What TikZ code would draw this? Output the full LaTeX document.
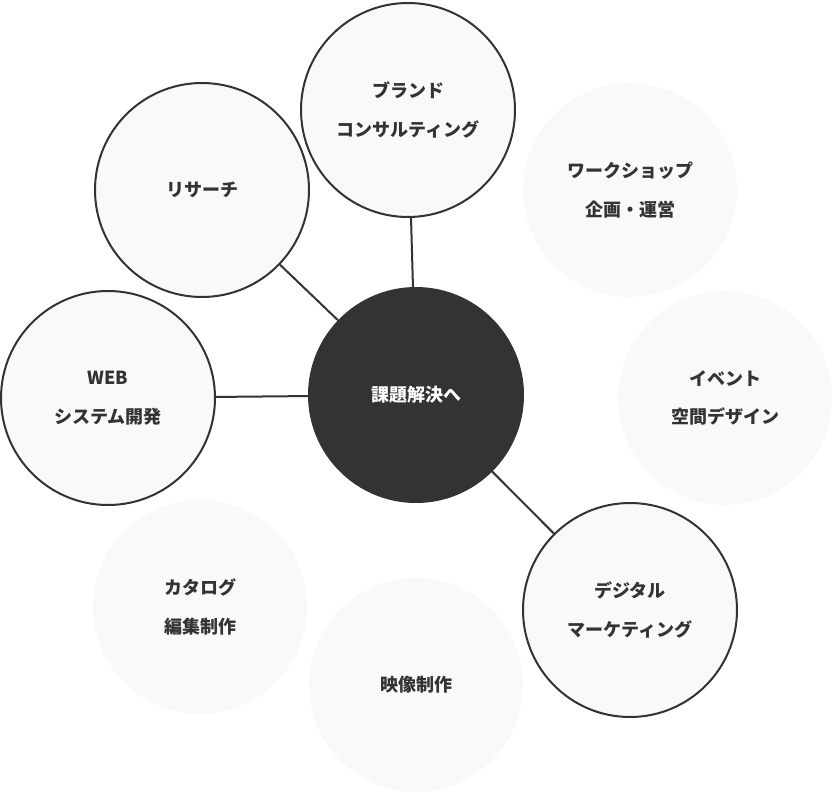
\documentclass[tikz,border=0pt]{standalone}
\usepackage{fontspec}
\setmainfont{Noto Sans CJK JP}
\definecolor{ink}{HTML}{333333}
\definecolor{paper}{HTML}{FAF9F7}
\tikzset{every picture/.style={line width=0.75pt}}
\tikzset{
  topic/.style={circle,draw=ink,line width=1.5pt,fill=paper,minimum size=160.5pt,inner sep=0pt,
    align=center,text=ink,font=\bfseries\fontsize{13.5}{29}\selectfont},
  faded/.style={topic,draw=none},
  hub/.style={topic,fill=ink,draw=ink,text=white},
  link/.style={draw=ink,line width=1.5pt}
}
\begin{document}
\begin{tikzpicture}[x=0.75pt,y=0.75pt,yscale=-1,xscale=1]
\useasboundingbox (0,0) rectangle (832,792);

% hub
\node [hub] (hub) at (416,395) {課題解決へ};

% linked topics
\node [topic] (brand) at (408,110) {ブランド\\コンサルティング};
\node [topic] (research) at (202,190) {リサーチ};
\node [topic] (web) at (108,398) {WEB\\システム開発};
\node [topic] (digital) at (630,610) {デジタル\\マーケティング};

% faded topics
\node [faded] (workshop) at (630,190) {ワークショップ\\企画・運営};
\node [faded] (event) at (725,398) {イベント\\空間デザイン};
\node [faded] (catalog) at (200,607) {カタログ\\編集制作};
\node [faded] (movie) at (416,685) {映像制作};

% links
\draw [link] (hub) -- (brand);
\draw [link] (hub) -- (research);
\draw [link] (hub) -- (web);
\draw [link] (hub) -- (digital);

\end{tikzpicture}
\end{document}
